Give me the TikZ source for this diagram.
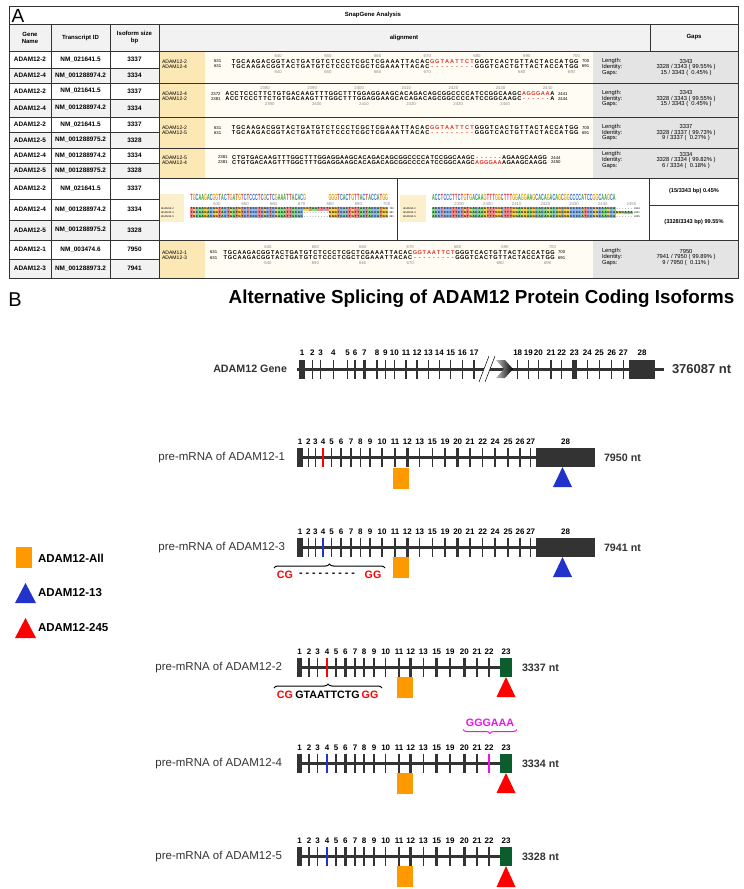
\documentclass[tikz,border=0pt]{standalone}
\usepackage{fontspec}
\setmainfont{Liberation Sans}
\usetikzlibrary{decorations.pathreplacing,shapes.geometric}
\definecolor{exdark}{HTML}{333333}
\definecolor{orangeall}{HTML}{FF9900}
\definecolor{blue13}{HTML}{2233CC}
\definecolor{red245}{HTML}{FF0000}
\definecolor{green23}{HTML}{0B5D2E}
\definecolor{magen}{HTML}{EE11EE}
\definecolor{seqred}{HTML}{E0302A}
\definecolor{yel}{HTML}{FBE8B5}
\definecolor{cream}{HTML}{FFFCF3}
\definecolor{statgrey}{HTML}{E4E4E4}
\definecolor{rowgrey}{HTML}{F2F2F2}
\definecolor{ntA}{HTML}{86DC86}
\definecolor{ntC}{HTML}{8FB8F0}
\definecolor{ntG}{HTML}{F7D050}
\definecolor{ntT}{HTML}{F08A8A}
\definecolor{cnA}{HTML}{2E9E2E}
\definecolor{cnC}{HTML}{2F6FD0}
\definecolor{cnG}{HTML}{E0A000}
\definecolor{cnT}{HTML}{E03030}
\newdimen\seqw
% plain sequence: lowercase = red letter, '-' = red dash
\newcommand\seq[2]{\seqw=#1\relax\seqi#2\relax}
\def\seqi#1{\ifx#1\relax\else\seqch{#1}\expandafter\seqi\fi}
\def\seqch#1{\makebox[\seqw][c]{\ifnum`#1>96 \textcolor{seqred}{\uppercase{#1}}\else\ifx#1-\textcolor{seqred}{-}\else #1\fi\fi}}
% coloured alignment rows
\newcommand\ntrow[2]{\seqw=#1\relax\ntri#2\relax}
\def\ntri#1{\ifx#1\relax\else\ntc{#1}\expandafter\ntri\fi}
\def\ntc#1{\ifx#1-\ntbx{white}{-}\else\ntbx{nt#1}{#1}\fi}
\def\ntbx#1#2{{\fboxsep=0pt\colorbox{#1}{\makebox[\seqw][c]{\vrule height 3.0pt depth 0.8pt width 0pt #2}}}}
% consensus
\newcommand\cnrow[2]{\seqw=#1\relax\cnri#2\relax}
\def\cnri#1{\ifx#1\relax\else\cnc{#1}\expandafter\cnri\fi}
\def\cnc#1{\makebox[\seqw][c]{\ifx#1.\else\textcolor{cn#1}{\scalebox{0.42}[1]{#1}}\fi}}
\tikzset{
  tline/.style={draw=black!80, line width=0.6pt},
  hdr/.style={font=\bfseries\fontsize{6}{7}\selectfont, align=center},
  cell/.style={font=\bfseries\fontsize{6.4}{7}\selectfont},
  alab/.style={font=\fontsize{5.1}{5.1}\selectfont, anchor=west},
  pnum/.style={font=\fontsize{4.3}{4.3}\selectfont, anchor=west},
  rul/.style={font=\fontsize{4.3}{4.3}\selectfont, text=black!45},
  seqf/.style={font=\bfseries\fontsize{5.6}{5.6}\selectfont, anchor=west},
  stat/.style={font=\fontsize{5.8}{5.8}\selectfont},
  gapb/.style={font=\bfseries\fontsize{5.6}{5.6}\selectfont},
  exline/.style={draw=exdark, line width=3pt},
  exnum/.style={font=\bfseries\fontsize{8}{8}\selectfont},
  isolab/.style={font=\fontsize{11.5}{11.5}\selectfont, text=exdark, anchor=east},
  ntlab/.style={font=\bfseries\fontsize{10.7}{10.7}\selectfont, text=exdark, anchor=west},
  braceb/.style={font=\bfseries\fontsize{10.7}{10.7}\selectfont},
  legt/.style={font=\bfseries\fontsize{11.5}{11.5}\selectfont, anchor=west},
  tiny/.style={font=\fontsize{2.6}{2.6}\selectfont}
}
\newcommand\rulerrow[5]{\foreach \i/\t in {#5} {\node[rul] (#1-\t) at ({#2+(\i+0.5)*#3}, #4) {\t};}}
\newcommand\exticks[3]{\foreach \x/\l/\w/\c in {#3} {
    \draw[line width=\w, draw=\c] (\x,#2-9.5) -- (\x,#2+9.5);
    \node[exnum] (#1-\l) at (\x,#2-15.5) {\l};}}
\begin{document}
\begin{tikzpicture}[x=1pt,y=-1pt, every node/.style={inner sep=0pt, outer sep=0pt}]
\useasboundingbox (0,0) rectangle (744,889);
% ================= PANEL A : table =================
\fill[rowgrey] (9,24) rectangle (738,51);
\foreach \a/\b in {68/83,99/117,132/148,163/178,220/240,259/278} {\fill[rowgrey] (9,\a) rectangle (159,\b);}
\foreach \a/\b in {51/83,83/117,117/148,148/178,240/278} {
  \fill[yel] (159,\a) rectangle (205,\b);
  \fill[cream] (205,\a) rectangle (593,\b);
  \fill[statgrey] (593,\a) rectangle (738,\b);}
\fill[yel!70] (160,194) rectangle (184,222);
\fill[yel!70] (400,195) rectangle (426,222);
% lines
\draw[tline, line width=0.9pt] (9,6) rectangle (738,278);
\foreach \yy in {24,51,83,117,148,178,240} {\draw[tline] (9,\yy) -- (738,\yy);}
\foreach \yy in {68,99,132,163,199,220,259} {\draw[tline] (9,\yy) -- (159,\yy);}
\foreach \xx in {51,110,159} {\draw[tline] (\xx,24) -- (\xx,278);}
\draw[tline] (650,24) -- (650,51);
\draw[tline] (397,178) -- (397,240);
\draw[tline] (649,178) -- (649,240);
\draw[tline] (649,205) -- (738,205);
% titles
\node[font=\fontsize{19}{19}\selectfont] (labA) at (18,15.5) {A};
\node[hdr] (snap) at (373,15) {SnapGene Analysis};
\node[hdr] (h1) at (30,37.5) {Gene\\Name};
\node[hdr] (h2) at (80.5,37.5) {Transcript ID};
\node[hdr] (h3) at (134.5,37.5) {Isoform size\\bp};
\node[hdr] (h4) at (404,37.5) {alignment};
\node[hdr] (h5) at (694,37.5) {Gaps};
% table rows
\foreach \n/\yy/\g/\t/\s in {
  1/59.5/ADAM12-2/NM\_021641.5/3337,
  2/75.5/ADAM12-4/NM\_001288974.2/3334,
  3/91/ADAM12-2/NM\_021641.5/3337,
  4/108/ADAM12-4/NM\_001288974.2/3334,
  5/124.5/ADAM12-2/NM\_021641.5/3337,
  6/140/ADAM12-5/NM\_001288975.2/3328,
  7/155.5/ADAM12-4/NM\_001288974.2/3334,
  8/170.5/ADAM12-5/NM\_001288975.2/3328,
  9/188.5/ADAM12-2/NM\_021641.5/3337,
  10/209.5/ADAM12-4/NM\_001288974.2/3334,
  11/230/ADAM12-5/NM\_001288975.2/3328,
  12/249.5/ADAM12-1/NM\_003474.6/7950,
  13/268.5/ADAM12-3/NM\_001288973.2/7941} {
  \node[cell] (gn\n) at (30,\yy) {\g};
  \node[cell] (tid\n) at (80.5,\yy) {\t};
  \node[cell] (sz\n) at (134.5,\yy) {\s};}
% ---- group 1
\node[alab] (a1a) at (162,61.5) {ADAM12-2};
\node[alab] (a1b) at (162,66.5) {ADAM12-4};
\node[pnum] (p1a) at (214,61.5) {631};
\node[pnum] (p1b) at (214,66.5) {631};
\rulerrow{r1t}{231}{4.97}{56}{9/640,19/650,29/660,39/670,49/680,59/690,69/700}
\node[seqf] (s1a) at (231,61.5) {\seq{4.97pt}{TGCAAGACGGTACTGATGTCTCCCTCGCTCGAAATTACACggtaattctGGGTCACTGTTACTACCATGG}};
\node[seqf] (s1b) at (231,66.5) {\seq{4.97pt}{TGCAAGACGGTACTGATGTCTCCCTCGCTCGAAATTACAC---------GGGTCACTGTTACTACCATGG}};
\rulerrow{r1b}{231}{4.97}{71.8}{9/640,19/650,29/660,39/670,58/680,68/690}
\node[pnum] (e1a) at (582,61.5) {700};
\node[pnum] (e1b) at (582,66.5) {691};
% ---- group 2
\node[alab] (a2a) at (162,94) {ADAM12-4};
\node[alab] (a2b) at (162,99) {ADAM12-2};
\node[pnum] (p2a) at (211,94) {2372};
\node[pnum] (p2b) at (211,99) {2381};
\rulerrow{r2t}{225}{4.71}{88.5}{8/2380,18/2390,28/2400,38/2410,48/2420,58/2430,68/2440}
\node[seqf] (s2a) at (225,94) {\seq{4.71pt}{ACCTCCCTTCTGTGACAAGTTTGGCTTTGGAGGAAGCACAGACAGCGGCCCCATCCGGCAAGCagggaaA}};
\node[seqf] (s2b) at (225,99) {\seq{4.71pt}{ACCTCCCTTCTGTGACAAGTTTGGCTTTGGAGGAAGCACAGACAGCGGCCCCATCCGGCAAGC------A}};
\rulerrow{r2b}{225}{4.71}{104.5}{9/2390,19/2400,29/2410,39/2420,49/2430,59/2440}
\node[pnum] (e2a) at (558,94) {2441};
\node[pnum] (e2b) at (558,99) {2444};
% ---- group 3
\node[alab] (a3a) at (162,128) {ADAM12-2};
\node[alab] (a3b) at (162,133) {ADAM12-5};
\node[pnum] (p3a) at (214,128) {631};
\node[pnum] (p3b) at (214,133) {631};
\node[seqf] (s3a) at (231,128) {\seq{4.97pt}{TGCAAGACGGTACTGATGTCTCCCTCGCTCGAAATTACACggtaattctGGGTCACTGTTACTACCATGG}};
\node[seqf] (s3b) at (231,133) {\seq{4.97pt}{TGCAAGACGGTACTGATGTCTCCCTCGCTCGAAATTACAC---------GGGTCACTGTTACTACCATGG}};
\node[pnum] (e3a) at (582,128) {700};
\node[pnum] (e3b) at (582,133) {691};
% ---- group 4
\node[alab] (a4a) at (162,157.5) {ADAM12-5};
\node[alab] (a4b) at (162,162.5) {ADAM12-4};
\node[pnum] (p4a) at (218,157.5) {2381};
\node[pnum] (p4b) at (218,162.5) {2381};
\node[seqf] (s4a) at (232,157.5) {\seq{4.5pt}{CTGTGACAAGTTTGGCTTTGGAGGAAGCACAGACAGCGGCCCCATCCGGCAAGC------AGAAGCAAGG}};
\node[seqf] (s4b) at (232,162.5) {\seq{4.5pt}{CTGTGACAAGTTTGGCTTTGGAGGAAGCACAGACAGCGGCCCCATCCGGCAAGCagggaaAGAAGCAAGG}};
\node[pnum] (e4a) at (551,157.5) {2444};
\node[pnum] (e4b) at (551,162.5) {2450};
% ---- group 5 (coloured)
\node[anchor=west, font=\bfseries\fontsize{9}{9}\selectfont] (c5l) at (190,197.5) {\cnrow{2.83pt}{TGCAAGACGGTACTGATGTCTCCCTCGCTCGAAATTACACG........GGGTCACTGTTACTACCATGG}};
\rulerrow{r5l}{190}{2.83}{204}{9/640,19/650,29/660,39/670,49/680,59/690,69/700}
\node[anchor=west, font=\bfseries\fontsize{3}{3}\selectfont] (n5l1) at (190,208.6) {\ntrow{2.83pt}{TGCAAGACGGTACTGATGTCTCCCTCGCTCGAAATTACACGGTAATTCTGGGTCACTGTTACTACCATGG}};
\node[anchor=west, font=\bfseries\fontsize{3}{3}\selectfont] (n5l2) at (190,212.4) {\ntrow{2.83pt}{TGCAAGACGGTACTGATGTCTCCCTCGCTCGAAATTACAC---------GGGTCACTGTTACTACCATGG}};
\node[anchor=west, font=\bfseries\fontsize{3}{3}\selectfont] (n5l3) at (190,216.2) {\ntrow{2.83pt}{TGCAAGACGGTACTGATGTCTCCCTCGCTCGAAATTACAC---------GGGTCACTGTTACTACCATGG}};
\node[tiny, anchor=west] (t5l1) at (161,208.6) {ADAM12-2};
\node[tiny, anchor=west] (t5l2) at (161,212.4) {ADAM12-4};
\node[tiny, anchor=west] (t5l3) at (161,216.2) {ADAM12-5};
\node[tiny, anchor=west] (u5l1) at (389.5,208.6) {700};
\node[tiny, anchor=west] (u5l2) at (389.5,212.4) {691};
\node[tiny, anchor=west] (u5l3) at (389.5,216.2) {691};
\node[anchor=west, font=\bfseries\fontsize{9}{9}\selectfont] (c5r) at (432,197.5) {\cnrow{2.87pt}{ACCTCCCTTCTGTGACAAGTTTGGCTTTGGAGGAAGCACAGACAGCGGCCCCATCCGGCAAGCA......}};
\rulerrow{r5r}{432}{2.87}{204}{9/2390,19/2400,29/2410,39/2420,49/2430,59/2440,69/2450}
\node[anchor=west, font=\bfseries\fontsize{3}{3}\selectfont] (n5r1) at (432,208.6) {\ntrow{2.87pt}{ACCTCCCTTCTGTGACAAGTTTGGCTTTGGAGGAAGCACAGACAGCGGCCCCATCCGGCAAGCA------}};
\node[anchor=west, font=\bfseries\fontsize{3}{3}\selectfont] (n5r2) at (432,212.4) {\ntrow{2.87pt}{ACCTCCCTTCTGTGACAAGTTTGGCTTTGGAGGAAGCACAGACAGCGGCCCCATCCGGCAAGCAGGGAAA}};
\node[anchor=west, font=\bfseries\fontsize{3}{3}\selectfont] (n5r3) at (432,216.2) {\ntrow{2.87pt}{ACCTCCCTTCTGTGACAAGTTTGGCTTTGGAGGAAGCACAGACAGCGGCCCCATCCGGCAAGCA------}};
\node[tiny, anchor=west] (t5r1) at (403,208.6) {ADAM12-2};
\node[tiny, anchor=west] (t5r2) at (403,212.4) {ADAM12-4};
\node[tiny, anchor=west] (t5r3) at (403,216.2) {ADAM12-5};
\node[tiny, anchor=west] (u5r1) at (634,208.6) {2444};
\node[tiny, anchor=west] (u5r2) at (634,212.4) {2441};
\node[tiny, anchor=west] (u5r3) at (634,216.2) {2435};
\node[gapb] (gp5a) at (694,191.5) {(15/3343 bp) 0.45\%};
\node[gapb] (gp5b) at (694,222.5) {(3328/3343 bp) 99.55\%};
% ---- group 6
\node[alab] (a6a) at (162,252.5) {ADAM12-1};
\node[alab] (a6b) at (162,258) {ADAM12-3};
\node[pnum] (p6a) at (210,252.5) {631};
\node[pnum] (p6b) at (210,258) {631};
\rulerrow{r6t}{223}{4.74}{246.8}{9/640,19/650,29/660,39/670,49/680,59/690,69/700}
\node[seqf] (s6a) at (223,252.5) {\seq{4.74pt}{TGCAAGACGGTACTGATGTCTCCCTCGCTCGAAATTACACggtaattctGGGTCACTGTTACTACCATGG}};
\node[seqf] (s6b) at (223,258) {\seq{4.74pt}{TGCAAGACGGTACTGATGTCTCCCTCGCTCGAAATTACAC---------GGGTCACTGTTACTACCATGG}};
\rulerrow{r6b}{223}{4.74}{263.5}{9/640,19/650,29/660,39/670,58/680,68/690}
\node[pnum] (e6a) at (558,252.5) {700};
\node[pnum] (e6b) at (558,258) {691};
% ---- stats
\foreach \g/\c/\L/\I/\G in {
  1/67/3343/{3328 / 3343 ( 99.55\% )}/{15 / 3343 (\ \ 0.45\% )},
  2/98.5/3343/{3328 / 3343 ( 99.55\% )}/{15 / 3343 (\ \ 0.45\% )},
  3/132.5/3337/{3328 / 3337 ( 99.73\% )}/{9 / 3337 (\ \ 0.27\% )},
  4/160/3334/{3328 / 3334 ( 99.82\% )}/{6 / 3334 (\ \ 0.18\% )},
  6/257/7950/{7941 / 7950 ( 99.89\% )}/{9 / 7950 (\ \ 0.11\% )}} {
  \node[stat, anchor=west] (st\g L) at (602,\c-5.7) {Length:};
  \node[stat, anchor=west] (st\g I) at (602,\c) {Identity:};
  \node[stat, anchor=west] (st\g G) at (602,\c+5.7) {Gaps:};
  \node[stat] (sv\g L) at (686,\c-5.7) {\L};
  \node[stat] (sv\g I) at (686,\c) {\I};
  \node[stat] (sv\g G) at (686,\c+5.7) {\G};}
% ================= PANEL B =================
\node[font=\fontsize{20}{20}\selectfont] (labB) at (15,300) {B};
\node[font=\bfseries\fontsize{18.8}{18.8}\selectfont] (titleB) at (481.5,299) {Alternative Splicing of ADAM12 Protein Coding Isoforms};
% ---- gene
\draw[exline] (297,369) -- (664,369);
\fill[exdark] (299,359.5) rectangle (305,378.5);
\node[exnum] (g-1) at (302,353) {1};
\foreach \x/\l/\w in {312.3/2/1.3pt,320.7/3/1.3pt,333.3/4/1.3pt,347.7/5/1.3pt,355/6/1.3pt,364.3/7/2.8pt,377/8/1.3pt,385.3/9/1.3pt,394.3/10/1.3pt,406/11/1.3pt,417/12/1.3pt,428.3/13/1.3pt,439.3/14/1.3pt,450.7/15/1.3pt,462.3/16/1.3pt,474/17/1.3pt,517.7/18/1.3pt,528.3/19/1.3pt,538.3/20/1.3pt,551/21/1.3pt,561.7/22/1.3pt,574.3/23/5pt,587.3/24/1.3pt,599.3/25/1.3pt,611.7/26/1.3pt,623.3/27/1.3pt} {
  \draw[line width=\w, draw=exdark] (\x,359.5) -- (\x,378.5);
  \node[exnum] (g-\l) at (\x,353) {\l};}
\fill[exdark] (629,359.5) rectangle (655,378.5);
\node[exnum] (g-28) at (642,353) {28};
\fill[white] (479,382) -- (489,356) -- (495,356) -- (485,382) -- cycle;
\draw[line width=0.5pt] (479,382) -- (489,356) (485,382) -- (495,356);
\shade[left color=black!25, right color=black] (496,360) -- (505,360) -- (513,369) -- (505,378) -- (496,378) -- (504,369) -- cycle;
\node[font=\bfseries\fontsize{10.7}{10.7}\selectfont, text=exdark, anchor=east] (genelab) at (287,369) {ADAM12 Gene};
\node[font=\bfseries\fontsize{13}{13}\selectfont, text=exdark, anchor=west] (genent) at (672,369) {376087 nt};
% ---- ADAM12-1
\draw[exline] (297,457.5) -- (536,457.5);
\fill[exdark] (297,448) rectangle (303,467);
\node[exnum] (i1-1) at (300,442) {1};
\exticks{i1}{457.5}{308.3/2/1.3pt/exdark,315.3/3/1.3pt/exdark,323/4/1.2pt/red245,331.7/5/1.3pt/exdark,341/6/2.8pt/exdark,351/7/1.3pt/exdark,360.3/8/1.3pt/exdark,370/9/2.8pt/exdark,382/10/1.3pt/exdark,395/11/2pt/exdark,407.3/12/2.8pt/exdark,419.7/13/1.3pt/exdark,432.3/15/1.3pt/exdark,445/19/1.3pt/exdark,457.7/20/2.8pt/exdark,470/21/1.3pt/exdark,482.7/22/1.3pt/exdark,495/24/1.3pt/exdark,508/25/1.3pt/exdark,520/26/2.8pt/exdark,530.7/27/1.3pt/exdark}
\fill[exdark] (536,448) rectangle (595,467);
\node[exnum] (i1-28) at (565.5,442) {28};
\fill[orangeall] (393,468) rectangle (409,489);
\fill[blue13] (562.5,467) -- (572,487) -- (553,487) -- cycle;
\node[isolab] (l1) at (285,458) {pre-mRNA of ADAM12-1};
\node[ntlab] (n1) at (604,458) {7950 nt};
% ---- ADAM12-3
\draw[exline] (297,547) -- (536,547);
\fill[exdark] (297,537.5) rectangle (303,556.5);
\node[exnum] (i3-1) at (300,531.5) {1};
\exticks{i3}{547}{308.3/2/1.3pt/exdark,315.3/3/1.3pt/exdark,323/4/1.2pt/blue13,331.7/5/1.3pt/exdark,341/6/2.8pt/exdark,351/7/1.3pt/exdark,360.3/8/1.3pt/exdark,370/9/2.8pt/exdark,382/10/1.3pt/exdark,395/11/2pt/exdark,407.3/12/2.8pt/exdark,419.7/13/1.3pt/exdark,432.3/15/1.3pt/exdark,445/19/1.3pt/exdark,457.7/20/2.8pt/exdark,470/21/1.3pt/exdark,482.7/22/1.3pt/exdark,495/24/1.3pt/exdark,508/25/1.3pt/exdark,520/26/2.8pt/exdark,530.7/27/1.3pt/exdark}
\fill[exdark] (536,537.5) rectangle (595,556.5);
\node[exnum] (i3-28) at (565.5,531.5) {28};
\fill[orangeall] (393,557) rectangle (409,578);
\fill[blue13] (562.5,557) -- (572,577) -- (553,577) -- cycle;
\node[isolab] (l3) at (285,547.5) {pre-mRNA of ADAM12-3};
\node[ntlab] (n3) at (604,547.5) {7941 nt};
\draw[decorate, decoration={brace, amplitude=4pt}, line width=1pt] (274,568) -- (385,568);
\node[braceb, text=red245] (cg3) at (285,574.5) {CG};
\node[braceb] (dash3) at (327,574.5) {- - - - - - - - -};
\node[braceb, text=red245] (gg3) at (373,574.5) {GG};
% ---- ADAM12-2
\draw[exline] (297,667) -- (500,667);
\fill[exdark] (297,657.5) rectangle (302,676.5);
\node[exnum] (i2-1) at (299.5,651.5) {1};
\exticks{i2}{667}{309/2/1.3pt/exdark,317.7/3/1.3pt/exdark,327/4/1.2pt/red245,336/5/1.3pt/exdark,345.3/6/2.8pt/exdark,355/7/1.3pt/exdark,364/8/1.3pt/exdark,374/9/2.8pt/exdark,385.7/10/1.3pt/exdark,399/11/1.3pt/exdark,410.7/12/2.8pt/exdark,423.3/13/1.3pt/exdark,436.7/15/2.8pt/exdark,450/19/1.3pt/exdark,464.3/20/2.8pt/exdark,477/21/1.3pt/exdark,489/22/1.3pt/exdark}
\fill[green23] (500,657.5) rectangle (512,676.5);
\node[exnum] (i2-23) at (506,651.5) {23};
\fill[orangeall] (397,677) rectangle (413,698);
\fill[red245] (506,677) -- (515.5,697) -- (496.5,697) -- cycle;
\node[isolab] (l2) at (282,667.5) {pre-mRNA of ADAM12-2};
\node[ntlab] (n2) at (522,667.5) {3337 nt};
\draw[decorate, decoration={brace, amplitude=4pt}, line width=1pt] (274,688) -- (382,688);
\node[braceb, text=red245] (cg2) at (285,694.5) {CG};
\node[braceb] (mid2) at (327.5,694.5) {GTAATTCTG};
\node[braceb, text=red245] (gg2) at (370,694.5) {GG};
% ---- GGGAAA
\node[braceb, text=magen] (ggg) at (490,723) {GGGAAA};
\draw[decorate, decoration={brace, amplitude=4pt, mirror}, line width=1pt, magen] (463,729.5) -- (517,729.5);
% ---- ADAM12-4
\draw[exline] (297,763) -- (500,763);
\fill[exdark] (297,753.5) rectangle (302,772.5);
\node[exnum] (i4-1) at (299.5,747.5) {1};
\exticks{i4}{763}{309/2/1.3pt/exdark,317.7/3/1.3pt/exdark,327/4/1.2pt/blue13,336/5/1.3pt/exdark,345.3/6/2.8pt/exdark,355/7/1.3pt/exdark,364/8/1.3pt/exdark,374/9/2.8pt/exdark,385.7/10/1.3pt/exdark,399/11/1.3pt/exdark,410.7/12/2.8pt/exdark,423.3/13/1.3pt/exdark,436.7/15/2.8pt/exdark,450/19/1.3pt/exdark,464.3/20/2.8pt/exdark,477/21/1.3pt/exdark,489/22/1.4pt/magen}
\fill[green23] (500,753.5) rectangle (512,772.5);
\node[exnum] (i4-23) at (506,747.5) {23};
\fill[orangeall] (397,773) rectangle (413,794);
\fill[red245] (506,773) -- (515.5,793) -- (496.5,793) -- cycle;
\node[isolab] (l4) at (282,763.5) {pre-mRNA of ADAM12-4};
\node[ntlab] (n4) at (522,763.5) {3334 nt};
% ---- ADAM12-5
\draw[exline] (297,856) -- (500,856);
\fill[exdark] (297,846.5) rectangle (302,865.5);
\node[exnum] (i5-1) at (299.5,840.5) {1};
\exticks{i5}{856}{309/2/1.3pt/exdark,317.7/3/1.3pt/exdark,327/4/1.2pt/blue13,336/5/1.3pt/exdark,345.3/6/2.8pt/exdark,355/7/1.3pt/exdark,364/8/1.3pt/exdark,374/9/2.8pt/exdark,385.7/10/1.3pt/exdark,399/11/1.3pt/exdark,410.7/12/2.8pt/exdark,423.3/13/1.3pt/exdark,436.7/15/2.8pt/exdark,450/19/1.3pt/exdark,464.3/20/2.8pt/exdark,477/21/1.3pt/exdark,489/22/1.3pt/exdark}
\fill[green23] (500,846.5) rectangle (512,865.5);
\node[exnum] (i5-23) at (506,840.5) {23};
\fill[orangeall] (397,866) rectangle (413,887);
\fill[red245] (506,866) -- (515.5,887) -- (496.5,887) -- cycle;
\node[isolab] (l5) at (282,856.5) {pre-mRNA of ADAM12-5};
\node[ntlab] (n5) at (522,856.5) {3328 nt};
% ---- legend
\fill[orangeall] (16,547) rectangle (32,568);
\node[legt] (lg1) at (38,558) {ADAM12-All};
\fill[blue13] (25.5,583) -- (36,603) -- (15,603) -- cycle;
\node[legt] (lg2) at (38,593) {ADAM12-13};
\fill[red245] (25.5,618) -- (36,638) -- (15,638) -- cycle;
\node[legt] (lg3) at (38,628) {ADAM12-245};
\end{tikzpicture}
\end{document}
